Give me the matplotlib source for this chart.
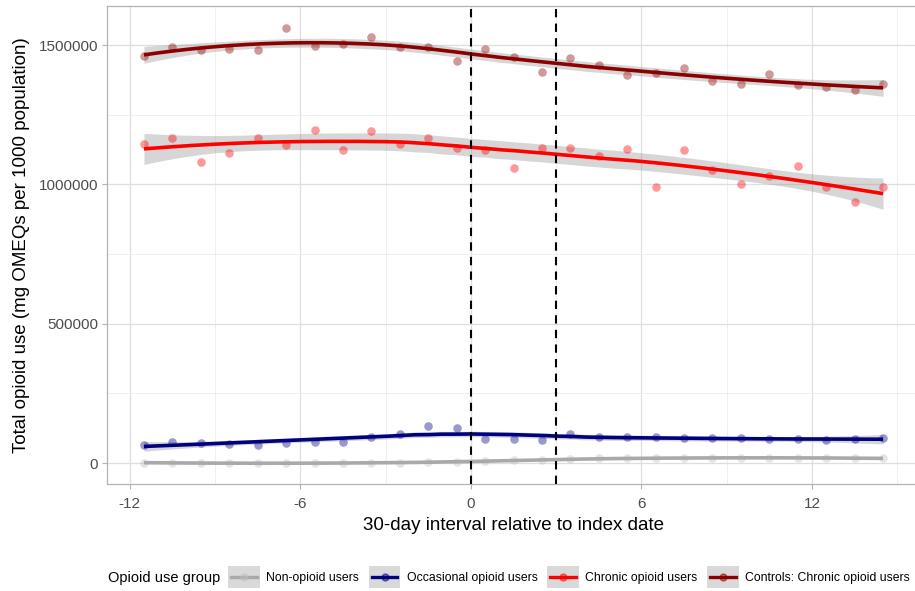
import numpy as np
import matplotlib
matplotlib.use("Agg")
import matplotlib.pyplot as plt
from matplotlib.lines import Line2D
from matplotlib.patches import Rectangle
from matplotlib.legend_handler import HandlerBase

plt.rcParams['font.family'] = ['Liberation Sans', 'DejaVu Sans']

# ---------------- data ----------------
interval = [-11.5, -10.5, -9.5, -8.5, -7.5, -6.5, -5.5, -4.5, -3.5, -2.5, -1.5, -0.5,
            0.5, 1.5, 2.5, 3.5, 4.5, 5.5, 6.5, 7.5, 8.5, 9.5, 10.5, 11.5, 12.5, 13.5, 14.5]

non_opioid = [1000, 0, 500, 0, 0, 500, 0, 500, 1000, 1500, 2500, 3500,
              6000, 10000, 11000, 15000, 16500, 17500, 18000, 18000, 18000, 18000,
              18000, 18000, 18000, 18000, 18000]

occasional = [63300, 74000, 70500, 66900, 63300, 71600, 74000, 74000, 94300, 102600, 133600, 127600,
              85900, 85900, 82300, 105000, 94300, 94300, 95400, 89500, 88300, 89500,
              84800, 85900, 82300, 85900, 88300]

chronic = [1146400, 1167800, 1081900, 1114100, 1165700, 1142800, 1194300, 1124900, 1190700,
           1146400, 1165700, 1131000, 1123800, 1059400, 1132000, 1131000, 1102300, 1126300,
           988900, 1124900, 1052200, 999600, 1031800, 1067600, 991400, 937700, 990300]

controls = [1460000, 1493500, 1480600, 1485300, 1481700, 1559300, 1497100, 1503200, 1528200,
            1491300, 1492400, 1443400, 1484200, 1456600, 1401900, 1454200, 1429100, 1392200,
            1399400, 1416200, 1370700, 1360000, 1395800, 1357500, 1349300, 1339600, 1358900]

groups = ["Non-opioid users", "Occasional opioid users", "Chronic opioid users",
          "Controls: Chronic opioid users"]
series = [non_opioid, occasional, chronic, controls]
line_colors = ["#A9A9A9", "#000080", "#FF0000", "#8B0000"]
point_colors = ["#BEBEBE", "#000080", "#FF0000", "#8B0000"]

index_lines = [0, 3]
x_ticks = [-12, -6, 0, 6, 12]
y_ticks = [0, 500000, 1000000, 1500000]


# ---------------- loess (like geom_smooth) ----------------
def loess_fit(x, y, xg, span=0.75):
    x = np.asarray(x, float)
    y = np.asarray(y, float)
    n = len(x)
    q = int(np.floor(n * span))

    def row(x0):
        d = np.abs(x - x0)
        h = np.sort(d)[q - 1]
        u = np.clip(d / h, 0, 1)
        w = (1 - u ** 3) ** 3
        X = np.vstack([np.ones(n), x - x0, (x - x0) ** 2]).T
        A = X.T @ (w[:, None] * X)
        B = np.linalg.solve(A, X.T * w)
        return B[0]

    L = np.array([row(xi) for xi in x])
    res = y - L @ y
    M = np.eye(n) - L
    delta1 = np.trace(M.T @ M)
    sigma = np.sqrt(np.sum(res ** 2) / delta1)
    Lg = np.array([row(xi) for xi in xg])
    fit = Lg @ y
    se = sigma * np.sqrt(np.sum(Lg ** 2, axis=1))
    t = 2.07
    return fit, fit - t * se, fit + t * se


# ---------------- figure ----------------
fig = plt.figure(figsize=(9.15, 5.91), dpi=100)
ax = fig.add_axes([107 / 915, 1 - 484 / 591, (920 - 107) / 915, (484 - 6) / 591])

xg = np.linspace(min(interval), max(interval), 200)
for vals, lc, pc in zip(series, line_colors, point_colors):
    fit, lo, hi = loess_fit(interval, vals, xg)
    ax.fill_between(xg, lo, hi, color="#999999", alpha=0.4, lw=0, zorder=2)
    ax.scatter(interval, vals, s=38, color=pc, alpha=0.4, lw=0, zorder=3)
    ax.plot(xg, fit, color=lc, lw=2.6, zorder=4, solid_capstyle='butt')

for xv in index_lines:
    ax.axvline(xv, color="black", ls=(0, (4, 3)), lw=1.5, zorder=5)

ax.set_xlim(-12.8, 15.8)
ax.set_ylim(-75000, 1640000)
ax.set_xticks(x_ticks)
ax.set_xticklabels([str(v) for v in x_ticks])
ax.set_xticks([-9, -3, 3, 9, 15], minor=True)
ax.set_yticks(y_ticks)
ax.set_yticklabels([str(v) for v in y_ticks])
ax.set_yticks([250000, 750000, 1250000], minor=True)

ax.grid(which='major', color="#DEDEDE", lw=0.9, zorder=0)
ax.grid(which='minor', color="#EDEDED", lw=0.6, zorder=0)
ax.set_axisbelow(True)
for s in ax.spines.values():
    s.set_color("#B3B3B3")
    s.set_linewidth(0.9)
ax.tick_params(which='major', length=3.5, color="#B3B3B3", labelsize=11, labelcolor="#4D4D4D")
ax.tick_params(axis='x', which='major', pad=6)
ax.tick_params(axis='y', which='major', pad=3)
ax.tick_params(which='minor', length=0)

ax.set_xlabel("30-day interval relative to index date", fontsize=13.5, color="black", labelpad=4)
ax.set_ylabel("Total opioid use (mg OMEQs per 1000 population)", fontsize=13.5, color="black", labelpad=6)


# ---------------- legend ----------------
class KeyHandler(HandlerBase):
    def create_artists(self, legend, orig_handle, xdescent, ydescent, width, height, fontsize, trans):
        rect = Rectangle((-xdescent, -ydescent), width, height, facecolor="#D9D9D9",
                         edgecolor="none", transform=trans)
        cy = -ydescent + height / 2
        ln = Line2D([-xdescent + width * 0.1, -xdescent + width * 0.9], [cy, cy],
                    color=orig_handle.get_color(), lw=2.4, transform=trans)
        pt = Line2D([-xdescent + width / 2], [cy], marker='o', ms=5,
                    color=orig_handle.get_markerfacecolor(), alpha=0.5, lw=0, transform=trans)
        return [rect, ln, pt]


handles = [Line2D([], [], color=lc, markerfacecolor=pc) for lc, pc in zip(line_colors, point_colors)]
fig.text(108 / 915, 1 - 578 / 591, "Opioid use group", fontsize=10.5, va='center', ha='left')
fig.legend(handles, groups, handler_map={Line2D: KeyHandler()}, loc='center left',
           bbox_to_anchor=(224.5 / 915, 1 - 577 / 591), ncol=4, frameon=False, fontsize=8.8,
           handlelength=2.6, handleheight=2.3, handletextpad=0.5, columnspacing=0.8,
           borderpad=0.3, borderaxespad=0)

fig.savefig("out.png", dpi=100)
